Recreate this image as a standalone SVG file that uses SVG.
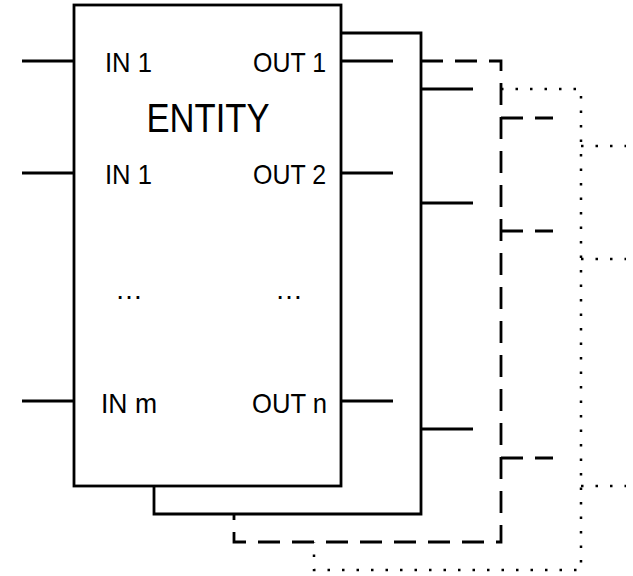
<svg xmlns="http://www.w3.org/2000/svg" width="633" height="576" viewBox="0 0 633 576">
<style>
.solid{fill:none;stroke:#000;stroke-width:2.8}
.dash{fill:none;stroke:#000;stroke-width:2.8;stroke-dasharray:22 12}
.dot{fill:none;stroke:#000;stroke-width:2.5;stroke-dasharray:2.5 12}
.lbl{font-family:"Liberation Sans",Arial,sans-serif;font-size:28px;fill:#000}
.title{font-family:"Liberation Sans",Arial,sans-serif;font-size:40px;fill:#000}
</style>
<rect width="633" height="576" fill="#fff"/>
<g id="layer-dotted">
<path class="dot" d="M501,89 H581 V570 H314 V542"/>
</g>
<g id="layer-dashed">
<path class="dash" d="M421,61 H501 V542 H234 V514"/>
</g>
<g id="layer-solid">
<path class="solid" d="M341,33 H421 V514 H154 V486"/>
</g>
<g id="entity">
<rect class="solid" x="74" y="5" width="267" height="481" fill="#fff"/>
<text class="title" x="208" y="132" text-anchor="middle" textLength="123" lengthAdjust="spacingAndGlyphs">ENTITY</text>
<text class="lbl" x="105" y="72" textLength="47" lengthAdjust="spacingAndGlyphs">IN 1</text>
<text class="lbl" x="105" y="184" textLength="47" lengthAdjust="spacingAndGlyphs">IN 1</text>
<text class="lbl" x="101" y="413" textLength="56" lengthAdjust="spacingAndGlyphs">IN m</text>
<text class="lbl" x="326" y="72" text-anchor="end" textLength="73" lengthAdjust="spacingAndGlyphs">OUT 1</text>
<text class="lbl" x="326" y="184" text-anchor="end" textLength="73" lengthAdjust="spacingAndGlyphs">OUT 2</text>
<text class="lbl" x="327" y="413" text-anchor="end" textLength="75" lengthAdjust="spacingAndGlyphs">OUT n</text>
<text class="lbl" x="115" y="299">…</text>
<text class="lbl" x="275" y="299">…</text>
</g>
<g id="connectors">
<path class="solid" d="M22,61 H74 M22,173 H74 M22,401 H74"/>
<path class="solid" d="M341,61 H393 M341,173 H393 M341,401 H393"/>
<path class="solid" d="M421,89 H473 M421,203 H473 M421,429 H473"/>
<path class="dash" d="M501,118 H553 M501,231 H553 M501,458 H553"/>
<path class="dot" d="M581,146 H626 M581,259 H626 M581,486 H626"/>
</g>
</svg>
